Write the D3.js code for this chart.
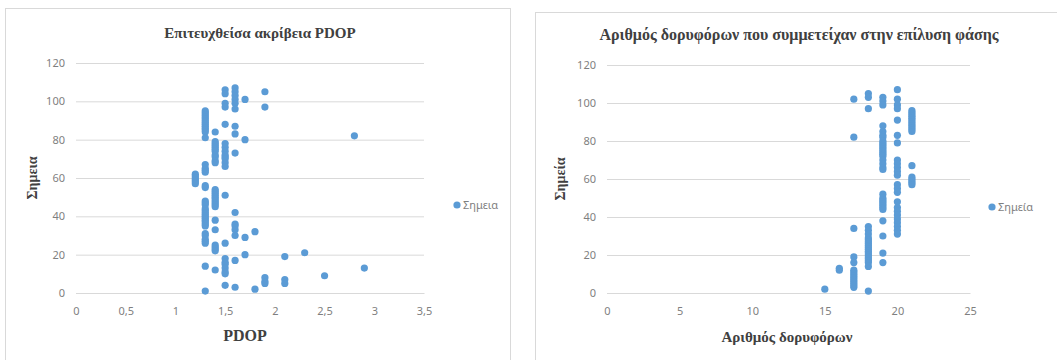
<!DOCTYPE html>
<html><head><meta charset="utf-8">
<script src="https://cdn.jsdelivr.net/npm/d3@7"></script>
<style>body{margin:0;background:#fff}svg{display:block}</style>
</head><body>
<svg id="c" width="1057" height="360"></svg>
<script>
// ---- data ----
const yTicks = [0, 20, 40, 60, 80, 100, 120];
const pdopTicks = [0, 0.5, 1, 1.5, 2, 2.5, 3, 3.5];
const satTicks = [0, 5, 10, 15, 20, 25];

const pdopValues = [
 1.3,1.3,1.3,1.3,1.3,1.3,1.3,1.3,1.3,1.3,1.3,1.3,1.3,1.3,1.3,1.3,1.3,1.3,1.3,1.3,1.3,1.3,1.3,1.3,1.3,1.3,1.3,1.3,1.3,1.3,1.3,1.3,1.3,1.3,1.3,1.3,1.3,1.3,1.3,
 1.2,1.2,1.2,1.2,1.2,1.2,
 1.4,1.4,1.4,1.4,1.4,1.4,1.4,1.4,1.4,1.4,1.4,1.4,1.4,1.4,1.4,1.4,1.4,1.4,1.4,1.4,1.4,1.4,1.4,1.4,1.4,1.4,1.4,1.4,
 1.5,1.5,1.5,1.5,1.5,1.5,1.5,1.5,1.5,1.5,1.5,1.5,1.5,1.5,1.5,1.5,1.5,1.5,1.5,1.5,1.5,1.5,
 1.6,1.6,1.6,1.6,1.6,1.6,1.6,1.6,1.6,1.6,1.6,1.6,1.6,1.6,1.6,1.6,
 1.7,1.7,1.7,1.7,
 1.8,1.8,
 1.9,1.9,1.9,1.9,1.9,
 2.1,2.1,2.1,
 2.3, 2.5, 2.8, 2.9
];
const pdopPoints = [
 95,94,93,92,91,90,89,88,87,86,85,84,81,67,65,64,63,56,55,48,47,46,44,43,42,41,40,39,38,37,36,35,31,30,28,27,26,14,1,
 62,61,60,59,58,57,
 84,79,78,77,76,75,74,72,71,69,68,54,53,52,51,50,49,48,47,46,45,38,33,25,24,23,22,12,
 106,104,99,97,88,78,76,74,72,71,70,68,66,51,26,18,16,15,13,11,10,4,
 107,105,103,101,99,96,87,83,73,42,36,35,33,30,17,3,
 101,80,29,20,
 32,2,
 105,97,8,6,5,
 19,7,5,
 21, 9, 82, 13
];

const satValues = [
 15,
 16,16,
 17,17,17,17,17,17,17,17,17,17,17,17,17,17,17,
 18,18,18,18,18,18,18,18,18,18,18,18,18,18,18,18,18,18,18,18,18,18,
 19,19,19,19,19,19,19,19,19,19,19,19,19,19,19,19,19,19,19,19,19,19,19,19,19,19,19,19,19,19,19,19,
 20,20,20,20,20,20,20,20,20,20,20,20,20,20,20,20,20,20,20,20,20,20,20,20,
 21,21,21,21,21,21,21,21,21,21,21,21,21,21,21,21,21,21
];
const satPoints = [
 2,
 13,12,
 102,82,34,19,16,12,11,10,9,8,7,6,5,4,3,
 105,103,97,35,33,31,29,28,27,26,25,24,23,22,21,20,19,18,17,16,14,1,
 103,101,99,88,85,83,82,80,79,78,77,76,75,74,73,72,70,68,66,65,52,50,49,48,47,46,45,44,38,30,21,16,
 107,102,99,97,91,83,79,70,68,66,64,62,57,55,53,48,45,43,41,39,37,35,33,31,
 96,95,94,93,92,91,90,89,88,87,86,85,67,61,60,59,58,57
];

const leftTitle = "Επιτευχθείσα ακρίβεια PDOP";
const leftXTitle = "PDOP";
const leftYTitle = "Σημεια";
const leftLegend = "Σημεια";
const rightTitle = "Αριθμός δορυφόρων που συμμετείχαν στην επίλυση φάσης";
const rightXTitle = "Αριθμός δορυφόρων";
const rightYTitle = "Σημεία";
const rightLegend = "Σημεία";

// ---- drawing ----
const svg = d3.select("#c");
const BLUE = "#5b9bd5";
const tickFont = "'Noto Sans', sans-serif";
const serif = "'Liberation Serif', 'DejaVu Serif', serif";

function chart(o) {
  const g = svg.append("g");
  g.append("rect").attr("x", o.frame[0]).attr("y", o.frame[1])
    .attr("width", o.frame[2]).attr("height", o.frame[3])
    .attr("fill", "#fff").attr("stroke", "#d9d9d9").attr("stroke-width", 1);

  const x = d3.scaleLinear().domain(o.xDomain).range([o.left, o.right]);
  const y = d3.scaleLinear().domain([0, 120]).range([o.bottom, o.top]);

  const yAxis = d3.axisLeft(y).tickValues(yTicks).tickSize(-(o.right - o.left)).tickPadding(11)
    .tickFormat(d3.format("d"));
  const ga = g.append("g").attr("transform", `translate(${o.left},0)`).call(yAxis);
  ga.select(".domain").remove();
  ga.selectAll(".tick line").attr("stroke", "#d9d9d9");
  ga.selectAll(".tick text").attr("fill", "#7f7f7f").attr("font-size", 11).attr("font-family", tickFont);

  const xAxis = d3.axisBottom(x).tickValues(o.xTicks).tickSize(0).tickPadding(14)
    .tickFormat(d => String(d).replace(".", ","));
  const gx = g.append("g").attr("transform", `translate(0,${o.bottom})`).call(xAxis);
  gx.select(".domain").attr("stroke", "#d9d9d9");
  gx.selectAll(".tick text").attr("fill", "#7f7f7f").attr("font-size", 11).attr("font-family", tickFont);

  g.append("g").selectAll("circle").data(o.xs.map((v, i) => [v, o.ys[i]])).join("circle")
    .attr("cx", d => x(d[0])).attr("cy", d => y(d[1])).attr("r", 3.6).attr("fill", BLUE);

  g.append("text").attr("x", o.titleX).attr("y", o.titleY).attr("text-anchor", "middle")
    .attr("font-family", serif).attr("font-size", o.titleSize).attr("font-weight", "bold")
    .attr("fill", "#404040").text(o.title);
  g.append("text").attr("x", o.xTitleX).attr("y", o.xTitleY).attr("text-anchor", "middle")
    .attr("font-family", serif).attr("font-size", o.xTitleSize).attr("font-weight", "bold")
    .attr("fill", "#404040").text(o.xTitle);
  g.append("text").attr("transform", `translate(${o.yTitleX},${o.yTitleY}) rotate(-90)`)
    .attr("text-anchor", "middle")
    .attr("font-family", serif).attr("font-size", 14).attr("font-weight", "bold")
    .attr("fill", "#404040").text(o.yTitle);

  g.append("circle").attr("cx", o.legX).attr("cy", o.legY).attr("r", 3.6).attr("fill", BLUE);
  g.append("text").attr("x", o.legX + 6).attr("y", o.legY + 4).attr("font-family", tickFont)
    .attr("font-size", 11).attr("fill", "#7f7f7f").text(o.legend);
}

chart({
  frame: [5.5, 8.5, 505, 360],
  xDomain: [0, 3.5], xTicks: pdopTicks, left: 76, right: 424, top: 63, bottom: 293,
  xs: pdopValues, ys: pdopPoints,
  title: leftTitle, titleX: 260, titleY: 38, titleSize: 15,
  xTitle: leftXTitle, xTitleX: 245, xTitleY: 341, xTitleSize: 16,
  yTitle: leftYTitle, yTitleX: 37, yTitleY: 178,
  legend: leftLegend, legX: 457, legY: 205
});
chart({
  frame: [535.5, 12.5, 540, 360],
  xDomain: [0, 25], xTicks: satTicks, left: 607, right: 970, top: 65, bottom: 293,
  xs: satValues, ys: satPoints,
  title: rightTitle, titleX: 799, titleY: 40, titleSize: 16,
  xTitle: rightXTitle, xTitleX: 787, xTitleY: 342, xTitleSize: 15,
  yTitle: rightYTitle, yTitleX: 565, yTitleY: 179,
  legend: rightLegend, legX: 992, legY: 207
});
</script>
</body></html>
